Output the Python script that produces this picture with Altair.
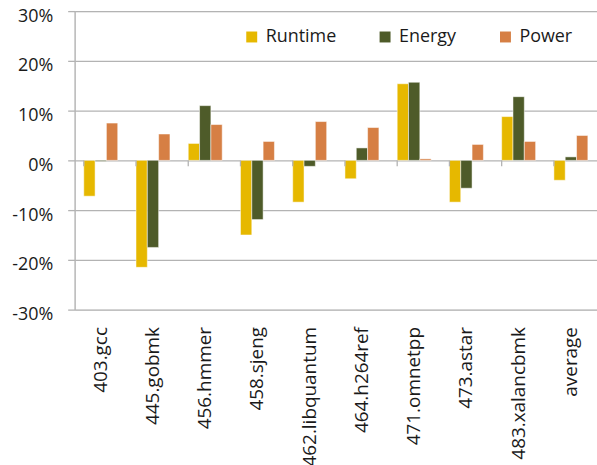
import altair as alt
import pandas as pd

benchmarks = ["403.gcc", "445.gobmk", "456.hmmer", "458.sjeng", "462.libquantum",
              "464.h264ref", "471.omnetpp", "473.astar", "483.xalancbmk", "average"]
runtime = [-7.2, -21.5, 3.4, -15.0, -8.4, -3.7, 15.4, -8.4, 8.8, -4.0]
energy = [-0.2, -17.5, 11.0, -11.9, -1.2, 2.5, 15.7, -5.6, 12.8, 0.7]
power = [7.5, 5.3, 7.2, 3.8, 7.8, 6.6, 0.3, 3.2, 3.8, 5.0]

series = ["Runtime", "Energy", "Power"]
colors = ["#E6B800", "#4E5B29", "#D67F44"]

rows = []
for name, vals in zip(series, [runtime, energy, power]):
    for b, v in zip(benchmarks, vals):
        rows.append({"bench": b, "series": name, "value": v / 100.0})
df = pd.DataFrame(rows)
ticks_df = pd.DataFrame({"bench": benchmarks})

FONT = "Open Sans"
GRID = "#b3b3b3"
TXT = "#1a1a1a"

x_scale = alt.Scale(domain=benchmarks, paddingInner=0.35, paddingOuter=0.175)
y_scale = alt.Scale(domain=[-0.3, 0.3], nice=False)

bars = alt.Chart(df).mark_bar(stroke="white", strokeWidth=1, strokeOpacity=0.5).encode(
    x=alt.X("bench:N", scale=x_scale, sort=benchmarks,
            axis=alt.Axis(title=None, labelAngle=-90, domain=False, ticks=False,
                          labelPadding=17, labelFontSize=19, labelFont=FONT,
                          labelColor=TXT, labelLimit=300)),
    xOffset=alt.XOffset("series:N", sort=series, scale=alt.Scale(paddingInner=0, paddingOuter=0)),
    y=alt.Y("value:Q", scale=y_scale,
            axis=alt.Axis(title=None, values=[-0.3, -0.2, -0.1, 0, 0.1, 0.2, 0.3],
                          labelExpr="(datum.value < -0.0001 ? '-' : '') + format(abs(datum.value), '.0%')",
                          grid=True, gridColor=GRID, gridWidth=1.3,
                          domainColor=GRID, domainWidth=1.3,
                          tickColor=GRID, tickSize=7, tickWidth=1.3,
                          labelPadding=15, labelFontSize=18, labelFont=FONT,
                          labelOffset=5, labelColor=TXT)),
    color=alt.Color("series:N", sort=series,
                    scale=alt.Scale(domain=series, range=colors),
                    legend=alt.Legend(title=None, orient="none", direction="horizontal",
                                      legendX=169, legendY=17, symbolType="square",
                                      symbolSize=121, symbolStrokeWidth=0,
                                      labelFontSize=18, labelFont=FONT, labelColor=TXT,
                                      columnPadding=40, labelOffset=5, padding=0)),
)

cat_ticks = alt.Chart(ticks_df).mark_rule(color=GRID, strokeWidth=1.3).encode(
    x=alt.X("bench:N", scale=x_scale, sort=benchmarks, bandPosition=0),
    y=alt.datum(0, scale=y_scale),
    y2=alt.datum(-0.012),
)

chart = alt.layer(bars, cat_ticks).properties(
    width=525, height=300,
    autosize=alt.AutoSizeParams(type="none"),
    padding={"left": 75, "top": 10, "right": 0, "bottom": 155},
).configure_view(stroke=None).configure(background="white")

chart.save("out.html", embed_options={"renderer": "svg", "actions": False})
